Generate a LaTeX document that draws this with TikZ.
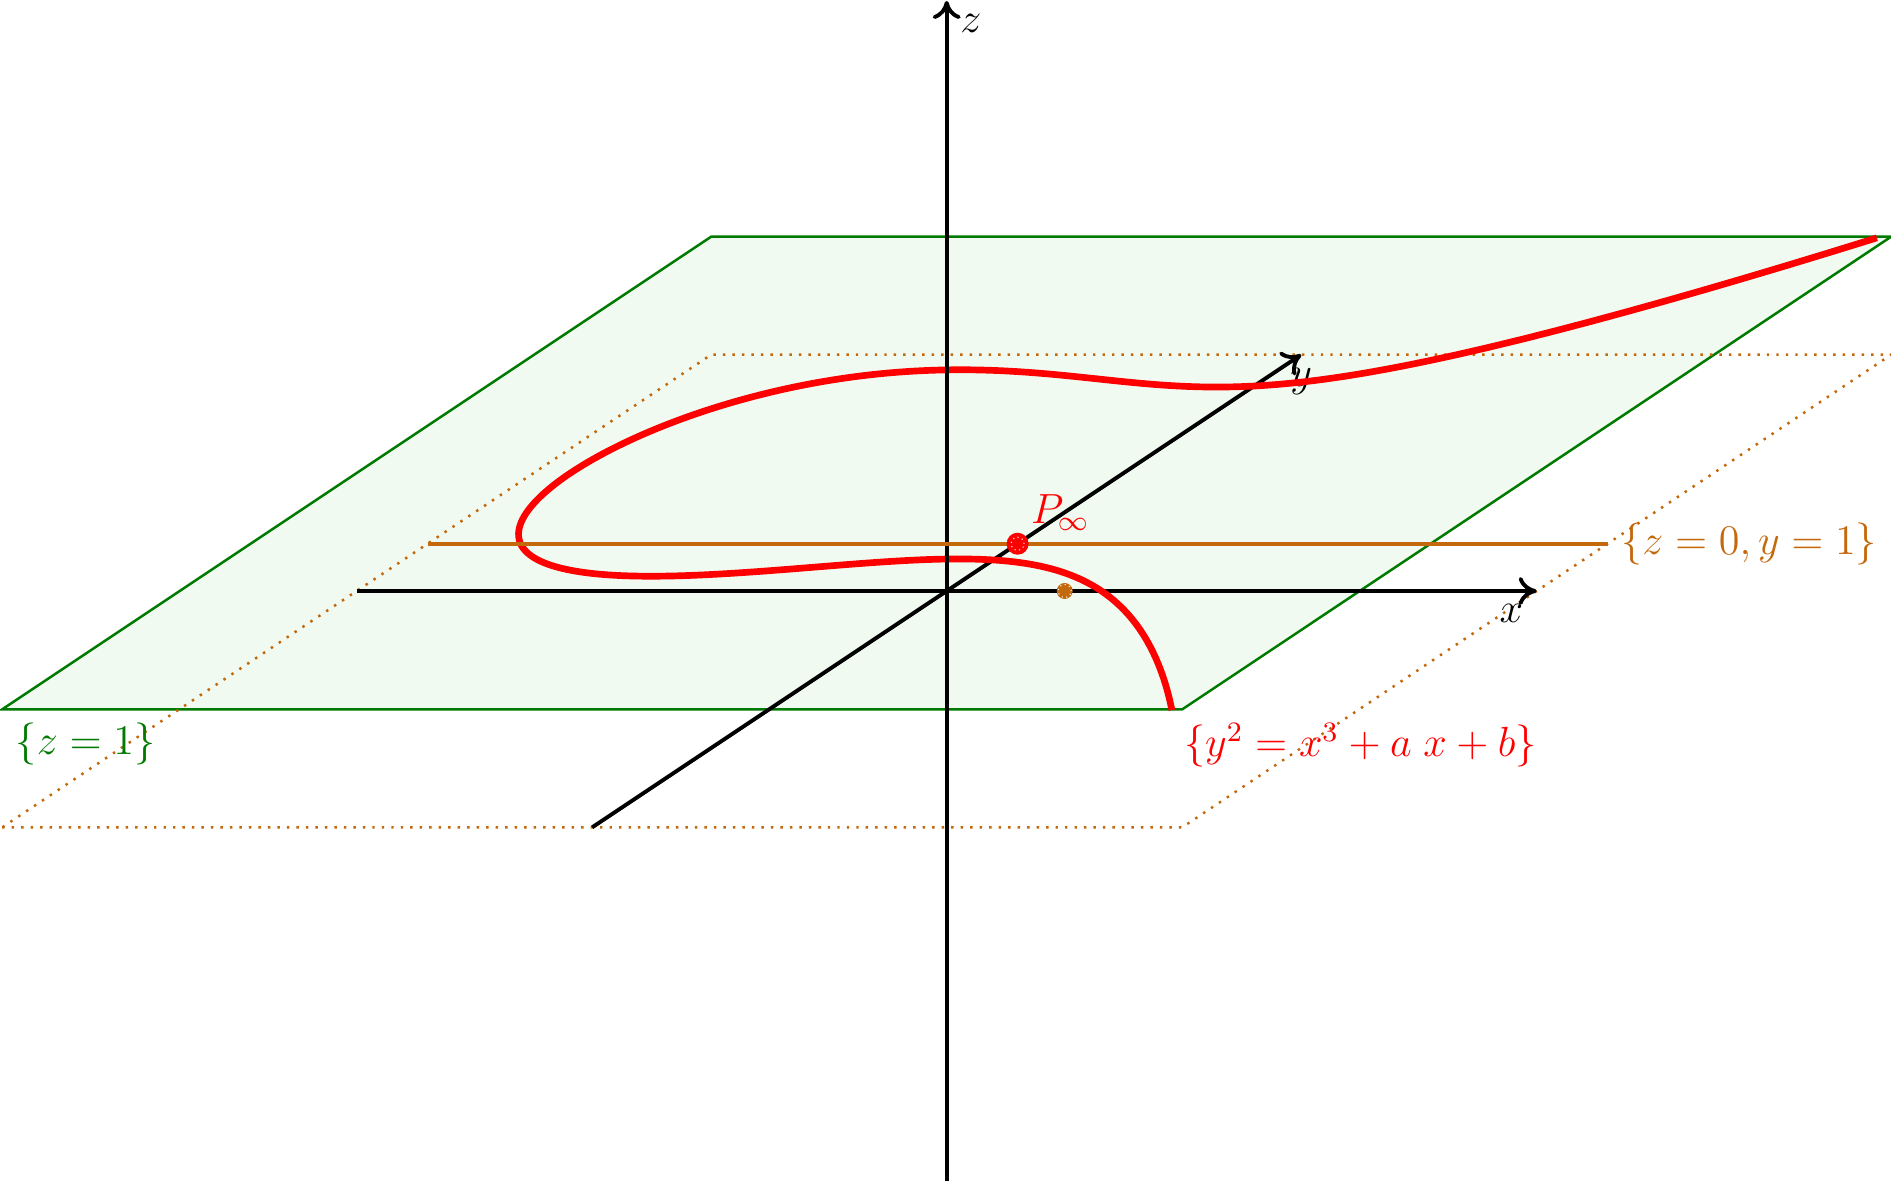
\documentclass[tikz,border=0pt]{standalone}
\usetikzlibrary{arrows.meta, positioning}
\definecolor{cgreen}{HTML}{007A00}
\definecolor{cpale}{HTML}{F0FAF0}
\definecolor{corange}{HTML}{C4680C}
\definecolor{cred}{HTML}{FF0000}
\tikzset{
  every picture/.style={line width=1.1pt},
  axis/.style={-{To[length=1.8mm, width=2.8mm]}, draw=black},
  plane/.style={draw=cgreen, fill=cpale, line width=0.7pt},
  ghost/.style={draw=corange, dotted, line width=0.7pt},
  curve/.style={draw=cred, line width=1.9pt},
  dot/.style={circle, fill=#1, inner sep=0pt, minimum size=2.2mm,
    path picture={\draw[white, densely dotted, line width=0.3pt] (path picture bounding box.center) circle (0.65mm);}},
  lbl/.style={font=\large, text=#1},
  lbl/.default=black,
}
\begin{document}
\begin{tikzpicture}[x={(1.18cm,0cm)}, y={(0.709cm,0.4727cm)}, z={(0cm,1.18cm)}]
  \useasboundingbox (-9.467cm,-5.93cm) rectangle (9.443cm,5.91cm);
  % the planes z=1 and z=0
  \draw[plane] (-5,-5,1) -- (5,-5,1) -- (5,5,1) -- (-5,5,1) -- cycle;
  \draw[ghost] (-5,-5,0) -- (5,-5,0) -- (5,5,0) -- (-5,5,0) -- cycle;
  \node[lbl=cgreen, below right] (lplane) at (-5,-5,1) {$\{z=1\}$};
  % axes
  \coordinate (xa) at (-5,0,0);
  \coordinate (xb) at (5,0,0);
  \coordinate (ya) at (0,-5,0);
  \coordinate (yb) at (0,5,0);
  \coordinate (za) at (0,0,-5);
  \coordinate (zb) at (0,0,5);
  \draw[axis] (xa) -- (xb) node[lbl, below left] (lx) {$x$};
  \draw[axis] (ya) -- (yb) node[lbl, below] (ly) {$y$};
  % the cubic in the plane z=1
  \draw[curve] plot[domain=-2.848:2.845, samples=161, smooth, variable=\t]
    ({-3.188+\t*\t}, {\t*sqrt(0.215*((-3.188+\t*\t)^2 - 3.188*(-3.188+\t*\t) + 5.89))}, 1);
  \coordinate (cend) at (4.9,-5,1);
  \node[lbl=cred, below right] (lcurve) at (cend) {$\{y^2=x^3+a\;x+b\}$};
  \draw[axis] (za) -- (zb) node[lbl, below right] (lz) {$z$};
  % line at infinity
  \coordinate (la) at (-5,1,0);
  \coordinate (lb) at (5,1,0);
  \draw[corange] (la) -- (lb) node[lbl=corange, right] (lline) {$\{z=0,y=1\}$};
  \node[dot=corange, minimum size=1.6mm] (q) at (1,0,0) {};
  \node[dot=cred] (pinf) at (0,1,0) {};
  \node[lbl=cred, above right] (lpinf) at (pinf) {$P_\infty$};
\end{tikzpicture}
\end{document}
